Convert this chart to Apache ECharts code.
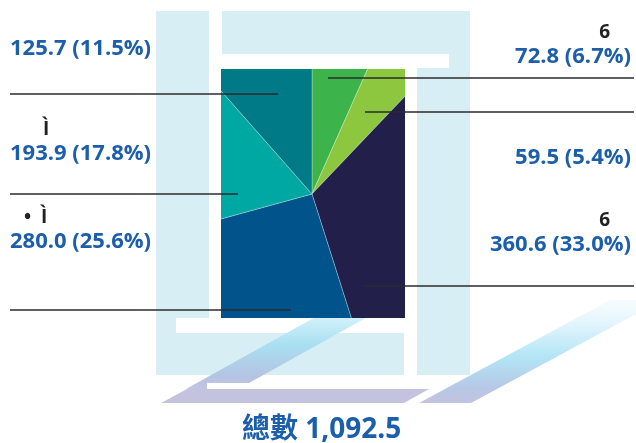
<!DOCTYPE html>
<html>
<head>
<meta charset="utf-8">
<script src="https://cdn.jsdelivr.net/npm/echarts@6/dist/echarts.min.js"></script>
<style>
  html, body { margin: 0; padding: 0; background: #ffffff; }
  #wrap { position: relative; width: 636px; height: 443px; overflow: hidden; }
  .layer { position: absolute; }
</style>
</head>
<body>
<div id="wrap">
  <div id="bg" class="layer" style="left:0;top:0;width:636px;height:443px;"></div>
  <div id="pie" class="layer" style="left:221px;top:69px;width:184px;height:249px;"></div>
  <div id="lab" class="layer" style="left:0;top:0;width:636px;height:443px;"></div>
</div>
<script>
// ---- data ----
const categories = ['6', '', '6', '•  Ì', 'Ì', ''];
const values = [72.8, 59.5, 360.6, 280.0, 193.9, 125.7];
const sliceColors = ['#3cb44b', '#8dc63f', '#221f4b', '#00538b', '#00a8a4', '#007a86'];
const totalLabel = '總數';

// ---- layout (screen px) ----
const pieCenter = [312, 194];
const pieBox = { left: 221, top: 69 };
const labelSpots = [
  { side: 'right', bottom: 69,  line: [328, 78],  nameInset: 21 },
  { side: 'right', bottom: 170, line: [365, 112], nameInset: 21 },
  { side: 'right', bottom: 257, line: [365, 286], nameInset: 21 },
  { side: 'left',  bottom: 254, line: [291, 310], nameInset: 14 },
  { side: 'left',  bottom: 166, line: [238, 194], nameInset: 33 },
  { side: 'left',  bottom: 61,  line: [278, 94],  nameInset: 33 }
];
const leftEdge = 10, rightText = 631, rightLine = 634;

const pieData = categories.map((c, i) => ({ name: c, value: values[i], itemStyle: { color: sliceColors[i] } }));
const total = values.reduce((a, b) => a + b, 0);

const FONT = '"Open Sans", "Noto Sans CJK TC", sans-serif';
const BLUE = '#1b5eab';
const LIGHT = '#d8eef5';

// ---- background layer ----
const bg = echarts.init(document.getElementById('bg'), null, { renderer: 'canvas' });
const rect = (x, y, w, h) => ({ type: 'rect', shape: { x, y, width: w, height: h }, style: { fill: LIGHT }, silent: true });
bg.setOption({
  backgroundColor: '#ffffff',
  title: {
    text: totalLabel + ' ' + echarts.format.addCommas(total.toFixed(1)),
    left: 237, top: 408,
    textStyle: { fontFamily: FONT, fontSize: 28, fontWeight: 'bold', color: BLUE, lineHeight: 34 }
  },
  graphic: [
    rect(156, 11, 53, 307),
    rect(156, 318, 20, 15),
    rect(156, 333, 248, 42),
    rect(222, 11, 248, 43),
    rect(449, 54, 21, 14),
    rect(417, 68, 53, 307),
    { type: 'polygon', silent: true,
      shape: { points: [[161, 403], [404, 403], [429, 389], [187, 389]] },
      style: { fill: '#c3c3e0' } },
    { type: 'polygon', silent: true,
      shape: { points: [[186, 389], [207, 389], [207, 383], [249, 383], [398, 300], [346, 300]] },
      style: { fill: new echarts.graphic.LinearGradient(0, 0, 0, 1, [
        { offset: 0, color: '#e8f8fd' },
        { offset: 0.2, color: '#d2f1fa' },
        { offset: 0.5, color: '#a8e0f1' },
        { offset: 0.85, color: '#b4c4e3' },
        { offset: 1, color: '#c3c3e0' }
      ]) } },
    { type: 'polygon', silent: true,
      shape: { points: [[419, 403], [471, 403], [662, 300], [610, 300]] },
      style: { fill: new echarts.graphic.LinearGradient(0, 0, 0, 1, [
        { offset: 0, color: 'rgba(235,248,253,0.4)' },
        { offset: 0.25, color: '#dff4fc' },
        { offset: 0.55, color: '#b3e5f6' },
        { offset: 0.85, color: '#b6c8e6' },
        { offset: 1, color: '#c3c3e0' }
      ]) } }
  ]
});

// ---- clipped pie layer ----
const pie = echarts.init(document.getElementById('pie'), null, { renderer: 'canvas' });
pie.setOption({
  backgroundColor: 'transparent',
  animation: false,
  series: [{
    type: 'pie',
    silent: true,
    center: [pieCenter[0] - pieBox.left, pieCenter[1] - pieBox.top],
    radius: [0, 200],
    startAngle: 90,
    clockwise: true,
    label: { show: false },
    labelLine: { show: false },
    itemStyle: { borderColor: 'rgba(255,255,255,0.35)', borderWidth: 0.8 },
    data: pieData
  }]
});

// ---- label layer ----
const lab = echarts.init(document.getElementById('lab'), null, { renderer: 'canvas' });
const rich = {
  v: { fontFamily: FONT, fontSize: 22, fontWeight: 'bold', color: BLUE, lineHeight: 25 }
};
labelSpots.forEach((s, i) => {
  rich['n' + i] = {
    fontFamily: FONT, fontSize: 19, fontWeight: 'bold', color: '#222222', lineHeight: 22,
    align: s.side,
    padding: s.side === 'left' ? [0, 0, 0, s.nameInset] : [0, s.nameInset, 0, 0]
  };
});
lab.setOption({
  backgroundColor: 'transparent',
  animation: false,
  series: [{
    type: 'pie',
    silent: true,
    center: pieCenter,
    radius: [0, 100],
    startAngle: 90,
    clockwise: true,
    percentPrecision: 1,
    itemStyle: { color: 'rgba(0,0,0,0)' },
    label: {
      show: true,
      formatter: p => {
        const v = '{v|' + p.value.toFixed(1) + ' (' + p.percent.toFixed(1) + '%)}';
        return p.name ? '{n' + p.dataIndex + '|' + p.name + '}\n' + v : v;
      },
      rich: rich
    },
    labelLine: { show: true, lineStyle: { color: '#2b2b2b', width: 1.5 } },
    labelLayout: p => {
      const s = labelSpots[p.dataIndex];
      const inner = s.line;
      const outerX = s.side === 'left' ? leftEdge : rightLine;
      return {
        x: s.side === 'left' ? leftEdge : rightText,
        y: s.bottom,
        align: s.side,
        verticalAlign: 'bottom',
        labelLinePoints: [[inner[0], inner[1]], [inner[0], inner[1]], [outerX, inner[1]]]
      };
    },
    data: pieData.map(d => ({ name: d.name, value: d.value }))
  }]
});
</script>
</body>
</html>
